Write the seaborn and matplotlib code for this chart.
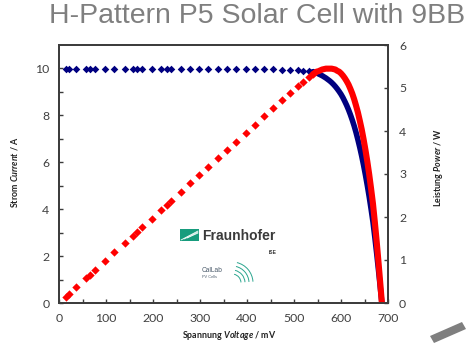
import numpy as np
import pandas as pd
import matplotlib
matplotlib.use("Agg")
import matplotlib.pyplot as plt
from matplotlib.patches import Polygon, Arc
import seaborn as sns

# Measured I-V / P-V characteristic
voltage_mv = [15, 21, 37, 57, 65, 77, 97, 118, 140, 157, 167, 177, 197, 218, 229,
              239, 259, 279, 298, 318, 338, 357, 377, 397, 416, 436, 455, 474, 492,
              508, 520, 531, 540,
              544, 548, 552, 556, 560, 564, 568, 572, 576, 580, 584, 588, 592, 596,
              600, 604, 608, 612, 616, 620, 624, 628, 632, 636, 640, 644, 648, 652,
              656, 660, 664, 668, 672, 676, 680, 684, 687]
current_a = [9.96, 9.96, 9.96, 9.96, 9.96, 9.96, 9.96, 9.96, 9.96, 9.96, 9.96, 9.96,
             9.96, 9.96, 9.96, 9.96, 9.96, 9.96, 9.96, 9.96, 9.96, 9.96, 9.96, 9.96,
             9.96, 9.96, 9.96, 9.95, 9.94, 9.92, 9.90, 9.88, 9.86,
             9.84, 9.81, 9.77, 9.73, 9.69, 9.64, 9.59, 9.53, 9.47, 9.40, 9.32, 9.23,
             9.13, 9.02, 8.90, 8.76, 8.60, 8.43, 8.24, 8.03, 7.80, 7.55, 7.27, 6.96,
             6.63, 6.27, 5.88, 5.46, 5.01, 4.53, 4.01, 3.46, 2.80, 2.10, 1.36, 0.58,
             0.00]
power_w = [0.15, 0.21, 0.37, 0.57, 0.65, 0.77, 0.97, 1.18, 1.39, 1.56, 1.66, 1.76,
           1.96, 2.17, 2.28, 2.38, 2.58, 2.78, 2.97, 3.17, 3.37, 3.56, 3.75, 3.95,
           4.14, 4.34, 4.53, 4.72, 4.89, 5.04, 5.15, 5.25, 5.32,
           5.35, 5.38, 5.39, 5.41, 5.43, 5.44, 5.45, 5.45, 5.45, 5.45, 5.44, 5.43,
           5.40, 5.38, 5.34, 5.29, 5.23, 5.16, 5.08, 4.98, 4.87, 4.74, 4.59, 4.43,
           4.24, 4.04, 3.81, 3.56, 3.29, 2.99, 2.66, 2.31, 1.88, 1.42, 0.92, 0.40,
           0.00]

title_text = "H-Pattern P5 Solar Cell with 9BB"
x_ticks = [0, 100, 200, 300, 400, 500, 600, 700]
left_ticks = [0, 2, 4, 6, 8, 10]
right_ticks = [0, 1, 2, 3, 4, 5, 6]

df = pd.DataFrame({"V": voltage_mv, "I": current_a, "P": power_w})
sparse = df[df["V"] <= 540]
dense = df[df["V"] >= 536]

sns.set_theme(style="white")
plt.rcParams["font.family"] = ["Lato", "DejaVu Sans"]
plt.rcParams["mathtext.fontset"] = "custom"
plt.rcParams["mathtext.rm"] = "Lato"
plt.rcParams["mathtext.it"] = "Lato:italic:bold"
plt.rcParams["mathtext.bf"] = "Lato:bold"

BLUE = "#000080"
RED = "#ff0000"
SPINE = "#3c3c3c"
TXT = "#404040"

fig = plt.figure(figsize=(4.73, 3.45), dpi=100)
fig.patch.set_facecolor("white")
ax = fig.add_axes([59 / 473, 1 - 303 / 345, (388 - 59) / 473, (303 - 45) / 345])
ax2 = ax.twinx()

# current on the left axis: separate points, merging into a solid band near Voc
sns.lineplot(data=dense, x="V", y="I", ax=ax, color=BLUE, lw=4.0,
             sort=False, legend=False)
sns.scatterplot(data=sparse, x="V", y="I", ax=ax, color=BLUE, marker="D", s=15,
                linewidth=0, legend=False)

# power on the right axis
sns.lineplot(data=dense, x="V", y="P", ax=ax2, color=RED, lw=4.4,
             sort=False, legend=False)
sns.scatterplot(data=sparse, x="V", y="P", ax=ax2, color=RED, marker="D", s=18,
                linewidth=0, legend=False)

ax.set_xlim(0, 700)
ax.set_ylim(0, 11)
ax2.set_ylim(0, 6)
ax.set_xticks(x_ticks)
ax.set_xticks(np.arange(50, 700, 100), minor=True)
ax.set_yticks(left_ticks)
ax.set_yticks([1, 3, 5, 7, 9], minor=True)
ax2.set_yticks(right_ticks)

for a in (ax, ax2):
    for s in a.spines.values():
        s.set_color(SPINE)
        s.set_linewidth(1.3)
    a.set_xlabel("")
    a.set_ylabel("")

ax.tick_params(axis="both", which="both", direction="in", length=3, width=1,
               color=SPINE, labelsize=8.8, labelcolor=TXT, pad=7)
ax.tick_params(axis="both", which="minor", length=3)
ax.tick_params(axis="y", which="both", left=True, right=False)
ax.tick_params(axis="x", which="both", bottom=True, top=False)
ax2.tick_params(axis="y", which="both", direction="in", length=3, width=1,
                color=SPINE, labelsize=8.8, labelcolor=TXT, pad=8,
                right=True, left=False)

fig.text(229 / 473, 1 - 335 / 345, r"Spannung $\mathit{Voltage}$ / mV",
         ha="center", va="center", fontsize=6.4, fontweight="bold", color="#222222")
fig.text(15 / 473, 1 - 172 / 345, r"Strom $\mathit{Current}$ / A",
         ha="center", va="center", rotation=90, fontsize=6.4,
         fontweight="bold", color="#222222")
fig.text(438 / 473, 1 - 167 / 345, r"Leistung $\mathit{Power}$ / W",
         ha="center", va="center", rotation=90, fontsize=6.4,
         fontweight="bold", color="#222222")

fig.text(257 / 473, 1 - 16 / 345, title_text, ha="center", va="center",
         fontsize=20.5, color="#7f7f7f", family=["Liberation Sans", "DejaVu Sans"])

# Fraunhofer ISE / CalLab logos inside the plot area
trans = fig.transFigure
def fx(px):
    return px / 473
def fy(py):
    return 1 - py / 345

green = Polygon([(fx(180), fy(229)), (fx(199), fy(229)), (fx(199), fy(241)),
                 (fx(180), fy(241))], closed=True, transform=trans,
                facecolor="#179c7d", edgecolor="none")
fig.patches.append(green)
for k in range(3):
    fig.lines.append(plt.Line2D([fx(181 + 3 * k), fx(198)],
                                [fy(240 - k), fy(231 + k)], transform=trans,
                                color="white", lw=0.6))
fig.text(fx(202), fy(236), "Fraunhofer", ha="left", va="center", fontsize=10,
         fontweight="bold", color="#3a3a3a",
         family=["Liberation Sans", "DejaVu Sans"])
fig.text(fx(269), fy(252), "ISE", ha="left", va="center", fontsize=3.5,
         fontweight="bold", color="#3a3a3a",
         family=["Liberation Sans", "DejaVu Sans"])
fig.text(fx(202), fy(270), "CalLab", ha="left", va="center", fontsize=4.8,
         color="#4a5a6a", family=["Liberation Sans", "DejaVu Sans"])
fig.text(fx(202), fy(276.5), "PV Cells", ha="left", va="center", fontsize=2.8,
         color="#4a5a6a", family=["Liberation Sans", "DejaVu Sans"])
for r in range(4):
    arc = Arc((fx(232), fy(283)), width=(9 + 4 * r) / 473 * 2,
              height=(9 + 4 * r) / 345 * 2, angle=0, theta1=5, theta2=80,
              transform=trans, color="#2aa58e", lw=0.7)
    fig.patches.append(arc)

# slide decoration at the lower right
bar = Polygon([(fx(430), fy(336)), (fx(462), fy(322)), (fx(466), fy(329)),
               (fx(434), fy(343))], closed=True, transform=trans,
              facecolor="#7f7f7f", edgecolor="none")
fig.patches.append(bar)

fig.savefig("out.png", dpi=100, facecolor="white")
